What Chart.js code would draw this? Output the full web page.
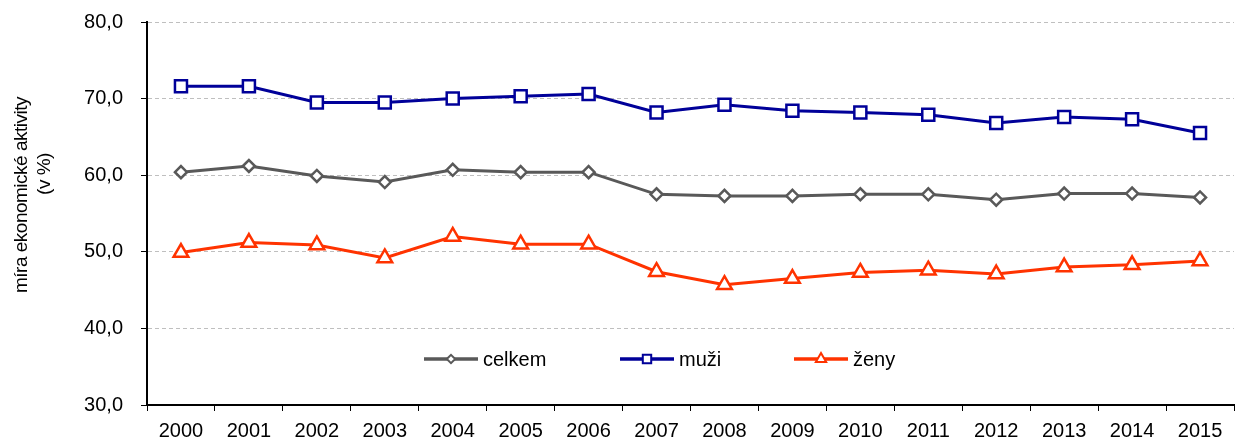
<!DOCTYPE html>
<html>
<head>
    <title>Míra ekonomické aktivity</title>
    <script src="https://cdn.jsdelivr.net/npm/chart.js"></script>
    <style>
        body { margin: 0; overflow: hidden; background: #fff; }
        #wrap { width: 1245px; height: 442px; }
    </style>
</head>
<body>
    <div id="wrap"><canvas id="activityChart"></canvas></div>

    <script>
        const years = ['2000', '2001', '2002', '2003', '2004', '2005', '2006', '2007',
                       '2008', '2009', '2010', '2011', '2012', '2013', '2014', '2015'];
        const celkem = [60.4, 61.2, 59.9, 59.1, 60.7, 60.4, 60.4, 57.5, 57.3, 57.3, 57.5, 57.5, 56.8, 57.6, 57.6, 57.1];
        const muzi = [71.6, 71.6, 69.5, 69.5, 70.0, 70.3, 70.6, 68.2, 69.2, 68.4, 68.2, 67.9, 66.8, 67.6, 67.3, 65.5];
        const zeny = [49.9, 51.2, 50.9, 49.2, 52.0, 51.0, 51.0, 47.4, 45.7, 46.5, 47.3, 47.6, 47.1, 48.0, 48.3, 48.8];
        const seriesNames = ['celkem', 'muži', 'ženy'];
        const yTitle = ['míra ekonomické aktivity', '(v %)'];

        const FONT = "'Liberation Sans', Arial, sans-serif";

        function series(label, data, color, style, radius) {
            return {
                label: label,
                data: data,
                borderColor: color,
                borderWidth: 3,
                pointStyle: style,
                pointRadius: radius,
                pointHoverRadius: radius,
                pointBorderWidth: 2.5,
                pointBorderColor: color,
                pointBackgroundColor: '#fff',
                fill: false,
                tension: 0
            };
        }

        // legend drawn inside the plot area, like the original
        const innerLegend = {
            id: 'innerLegend',
            afterDraw(chart) {
                const ctx = chart.ctx;
                const y = 359;
                const starts = [424, 620, 794];
                ctx.save();
                chart.data.datasets.forEach((ds, i) => {
                    const x0 = starts[i];
                    ctx.strokeStyle = ds.borderColor;
                    ctx.lineWidth = 3.5;
                    ctx.beginPath();
                    ctx.moveTo(x0, y);
                    ctx.lineTo(x0 + 54, y);
                    ctx.stroke();
                    ctx.fillStyle = '#fff';
                    ctx.lineWidth = 2;
                    Chart.helpers.drawPoint(ctx, {
                        pointStyle: ds.pointStyle,
                        radius: ds.pointRadius * 0.7,
                        rotation: 0,
                        borderWidth: 2
                    }, x0 + 27, y);
                    ctx.fillStyle = '#000';
                    ctx.font = '20px ' + FONT;
                    ctx.textBaseline = 'middle';
                    ctx.textAlign = 'left';
                    ctx.fillText(ds.label, x0 + 59, y + 1);
                });
                ctx.restore();
            }
        };

        // rotated two-line axis title, placed as in the original
        const yTitlePlugin = {
            id: 'yTitlePlugin',
            afterDraw(chart) {
                const ctx = chart.ctx;
                const spots = [[22, 195], [45, 174]];
                ctx.save();
                ctx.fillStyle = '#000';
                ctx.font = '19px ' + FONT;
                ctx.letterSpacing = '-0.5px';
                ctx.textAlign = 'center';
                ctx.textBaseline = 'middle';
                yTitle.forEach((line, i) => {
                    ctx.save();
                    ctx.translate(spots[i][0], spots[i][1]);
                    ctx.rotate(-Math.PI / 2);
                    ctx.fillText(line, 0, 0);
                    ctx.restore();
                });
                ctx.restore();
            }
        };

        new Chart(document.getElementById('activityChart'), {
            type: 'line',
            data: {
                labels: years,
                datasets: [
                    series(seriesNames[0], celkem, '#595959', 'rectRot', 6),
                    series(seriesNames[1], muzi, '#000099', 'rect', 8.5),
                    series(seriesNames[2], zeny, '#FF3300', 'triangle', 8.5)
                ]
            },
            options: {
                responsive: true,
                maintainAspectRatio: false,
                animation: false,
                layout: { padding: { top: 22, right: 0, left: 0, bottom: 0 } },
                plugins: {
                    legend: { display: false },
                    tooltip: { enabled: false }
                },
                scales: {
                    x: {
                        offset: true,
                        grid: {
                            offset: true,
                            drawOnChartArea: false,
                            tickLength: 6,
                            tickColor: '#000'
                        },
                        border: { color: '#000', width: 2 },
                        ticks: {
                            color: '#000',
                            font: { family: FONT, size: 20 },
                            padding: 8,
                            maxRotation: 0
                        },
                        afterFit: s => {
                            s.height = 37;
                            s.paddingLeft = 0;
                            s.paddingRight = 0;
                        }
                    },
                    y: {
                        min: 30,
                        max: 80,
                        grid: {
                            color: '#BFBFBF',
                            lineWidth: 1,
                            tickLength: 6,
                            tickColor: '#000',
                            tickBorderDash: []
                        },
                        border: { color: '#000', width: 2, dash: [4, 3] },
                        ticks: {
                            stepSize: 10,
                            color: '#000',
                            padding: 18,
                            font: { family: FONT, size: 20 },
                            callback: v => v.toFixed(1).replace('.', ',')
                        },
                        afterFit: s => {
                            s.width = 147;
                            s.paddingTop = 0;
                            s.paddingBottom = 0;
                        }
                    }
                }
            },
            plugins: [innerLegend, yTitlePlugin]
        });
    </script>
</body>
</html>
